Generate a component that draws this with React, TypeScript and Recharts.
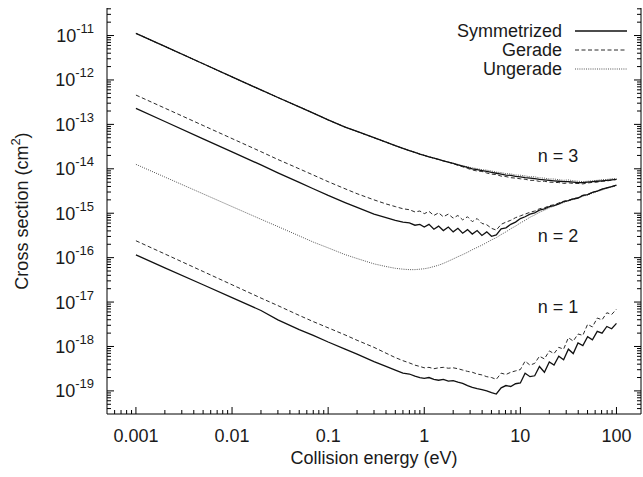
import React from 'react';
import { LineChart, Line, XAxis, YAxis, Legend, Customized } from 'recharts';

// Collision energies (eV) shared by every curve
const energies = [
  0.001, 0.002, 0.005, 0.01, 0.02, 0.03, 0.05, 0.07, 0.1, 0.15, 0.2, 0.3, 0.4, 0.5, 0.6, 0.7, 0.8, 0.9,
  1, 1.12, 1.26, 1.41, 1.58, 1.78, 2, 2.24, 2.51, 2.82, 3.16, 3.55, 3.98, 4.47, 5.01, 5.62, 6.31, 7.08, 7.94, 8.91,
  10, 11.2, 12.6, 14.1, 15.8, 17.8, 20, 22.4, 25.1, 28.2, 31.6, 35.5, 39.8, 44.7, 50.1, 56.2, 63.1, 70.8, 79.4, 89.1,
  100,
];

// Cross sections (cm^2), n = 3
const n3Symmetrized = [
  1.12e-11, 5.69e-12, 2.32e-12, 1.17e-12, 5.96e-13, 4.03e-13, 2.48e-13, 1.8e-13, 1.26e-13, 8.71e-14, 6.92e-14, 5.01e-14, 3.98e-14, 3.31e-14, 2.88e-14, 2.57e-14, 2.34e-14, 2.14e-14,
  2.0e-14, 1.86e-14, 1.74e-14, 1.62e-14, 1.51e-14, 1.41e-14, 1.32e-14, 1.23e-14, 1.15e-14, 1.07e-14, 1.0e-14, 9.55e-15, 9.12e-15, 8.71e-15, 8.32e-15, 7.94e-15, 7.59e-15, 7.24e-15, 7.08e-15, 6.76e-15,
  6.61e-15, 6.31e-15, 6.17e-15, 6.03e-15, 5.75e-15, 5.62e-15, 5.5e-15, 5.37e-15, 5.25e-15, 5.13e-15, 5.13e-15, 5.01e-15, 4.9e-15, 4.9e-15, 5.01e-15, 5.13e-15, 5.25e-15, 5.37e-15, 5.5e-15, 5.62e-15,
  5.75e-15,
];
const n3Gerade = [
  1.12e-11, 5.69e-12, 2.32e-12, 1.17e-12, 5.96e-13, 4.03e-13, 2.48e-13, 1.8e-13, 1.26e-13, 8.71e-14, 6.92e-14, 5.01e-14, 3.98e-14, 3.31e-14, 2.88e-14, 2.57e-14, 2.34e-14, 2.14e-14,
  2.0e-14, 1.86e-14, 1.74e-14, 1.62e-14, 1.51e-14, 1.41e-14, 1.3e-14, 1.2e-14, 1.11e-14, 1.02e-14, 9.44e-15, 8.91e-15, 8.71e-15, 8.04e-15, 7.59e-15, 7.41e-15, 6.84e-15, 6.68e-15, 6.31e-15, 6.17e-15,
  5.96e-15, 5.82e-15, 5.5e-15, 5.5e-15, 5.19e-15, 5.25e-15, 5.01e-15, 4.95e-15, 4.9e-15, 4.68e-15, 4.84e-15, 4.68e-15, 4.68e-15, 4.57e-15, 4.79e-15, 4.95e-15, 5.01e-15, 5.25e-15, 5.31e-15, 5.56e-15,
  5.75e-15,
];
const n3Ungerade = [
  1.12e-11, 5.69e-12, 2.32e-12, 1.17e-12, 5.96e-13, 4.03e-13, 2.48e-13, 1.8e-13, 1.26e-13, 8.71e-14, 6.92e-14, 5.01e-14, 3.98e-14, 3.31e-14, 2.88e-14, 2.57e-14, 2.34e-14, 2.14e-14,
  2.0e-14, 1.86e-14, 1.74e-14, 1.62e-14, 1.51e-14, 1.41e-14, 1.33e-14, 1.26e-14, 1.17e-14, 1.11e-14, 1.05e-14, 1.01e-14, 9.55e-15, 9.33e-15, 8.91e-15, 8.41e-15, 8.22e-15, 7.76e-15, 7.67e-15, 7.24e-15,
  7.16e-15, 6.92e-15, 6.61e-15, 6.61e-15, 6.24e-15, 6.17e-15, 5.89e-15, 5.89e-15, 5.69e-15, 5.5e-15, 5.62e-15, 5.37e-15, 5.25e-15, 5.13e-15, 5.25e-15, 5.37e-15, 5.5e-15, 5.69e-15, 5.75e-15, 5.96e-15,
  6.03e-15,
];

// Cross sections (cm^2), n = 2
const n2Symmetrized = [
  2.29e-13, 1.16e-13, 4.73e-14, 2.4e-14, 1.22e-14, 8.13e-15, 4.95e-15, 3.55e-15, 2.51e-15, 1.74e-15, 1.35e-15, 9.55e-16, 7.94e-16, 6.92e-16, 6.31e-16, 6.03e-16, 5.37e-16, 5.62e-16,
  4.9e-16, 5.62e-16, 4.37e-16, 5.13e-16, 4.07e-16, 4.9e-16, 3.8e-16, 4.57e-16, 3.55e-16, 4.27e-16, 3.39e-16, 4.07e-16, 3.16e-16, 3.8e-16, 3.02e-16, 3.24e-16, 4.47e-16, 4.68e-16, 5.62e-16, 6.31e-16,
  7.59e-16, 8.32e-16, 9.55e-16, 1.02e-15, 1.17e-15, 1.26e-15, 1.41e-15, 1.48e-15, 1.62e-15, 1.82e-15, 1.91e-15, 2.09e-15, 2.19e-15, 2.51e-15, 2.63e-15, 2.95e-15, 3.16e-15, 3.47e-15, 3.72e-15, 3.98e-15,
  4.27e-15,
];
const n2Gerade = [
  4.57e-13, 2.32e-13, 9.44e-14, 4.79e-14, 2.43e-14, 1.62e-14, 1.0e-14, 7.24e-15, 5.13e-15, 3.55e-15, 2.75e-15, 2.0e-15, 1.62e-15, 1.41e-15, 1.26e-15, 1.2e-15, 1.07e-15, 1.12e-15,
  9.77e-16, 1.1e-15, 8.91e-16, 1.02e-15, 8.32e-16, 9.55e-16, 7.76e-16, 8.91e-16, 7.08e-16, 8.32e-16, 6.46e-16, 7.59e-16, 5.89e-16, 5.5e-16, 4.57e-16, 4.17e-16, 5.62e-16, 6.31e-16, 6.92e-16, 7.94e-16,
  8.71e-16, 9.55e-16, 1.05e-15, 1.12e-15, 1.26e-15, 1.32e-15, 1.48e-15, 1.55e-15, 1.7e-15, 1.86e-15, 1.95e-15, 2.14e-15, 2.24e-15, 2.51e-15, 2.63e-15, 2.95e-15, 3.16e-15, 3.47e-15, 3.72e-15, 3.98e-15,
  4.27e-15,
];
const n2Ungerade = [
  1.26e-14, 6.52e-15, 2.73e-15, 1.41e-15, 7.31e-16, 5.01e-16, 3.09e-16, 2.24e-16, 1.66e-16, 1.17e-16, 9.55e-17, 7.24e-17, 6.31e-17, 5.75e-17, 5.5e-17, 5.37e-17, 5.37e-17, 5.5e-17,
  5.62e-17, 5.89e-17, 6.31e-17, 6.76e-17, 7.41e-17, 8.32e-17, 9.33e-17, 1.05e-16, 1.17e-16, 1.32e-16, 1.51e-16, 1.7e-16, 1.91e-16, 2.19e-16, 2.51e-16, 2.82e-16, 3.31e-16, 3.8e-16, 4.47e-16, 5.13e-16,
  6.03e-16, 6.92e-16, 8.13e-16, 9.12e-16, 1.05e-15, 1.17e-15, 1.32e-15, 1.45e-15, 1.58e-15, 1.74e-15, 1.91e-15, 2.04e-15, 2.19e-15, 2.4e-15, 2.57e-15, 2.82e-15, 3.09e-15, 3.31e-15, 3.63e-15, 3.89e-15,
  4.17e-15,
];

// Cross sections (cm^2), n = 1
const n1Symmetrized = [
  1.15e-16, 5.89e-17, 2.45e-17, 1.26e-17, 6.46e-18, 3.98e-18, 2.4e-18, 1.78e-18, 1.26e-18, 8.71e-19, 6.76e-19, 4.57e-19, 3.55e-19, 2.95e-19, 2.51e-19, 2.4e-19, 2.14e-19, 2.0e-19,
  1.91e-19, 2.0e-19, 1.82e-19, 1.74e-19, 1.82e-19, 1.66e-19, 1.7e-19, 1.58e-19, 1.48e-19, 1.32e-19, 1.2e-19, 1.12e-19, 1.07e-19, 1.0e-19, 9.12e-20, 8.51e-20, 1.17e-19, 1.32e-19, 1.26e-19, 1.45e-19,
  1.51e-19, 2.51e-19, 2.09e-19, 2.19e-19, 3.55e-19, 2.63e-19, 4.47e-19, 3.8e-19, 6.03e-19, 5.01e-19, 8.71e-19, 6.92e-19, 1.2e-18, 1.05e-18, 1.66e-18, 1.41e-18, 2.19e-18, 2.0e-18, 2.82e-18, 2.51e-18,
  3.31e-18,
];
const n1Gerade = [
  2.4e-16, 1.21e-16, 4.88e-17, 2.45e-17, 1.23e-17, 8.32e-18, 5.01e-18, 3.63e-18, 2.63e-18, 1.82e-18, 1.38e-18, 9.55e-19, 7.08e-19, 5.62e-19, 4.79e-19, 4.27e-19, 3.8e-19, 3.55e-19,
  3.31e-19, 3.39e-19, 3.16e-19, 3.31e-19, 3.39e-19, 3.24e-19, 3.31e-19, 3.16e-19, 2.95e-19, 2.75e-19, 2.63e-19, 2.4e-19, 2.29e-19, 2.09e-19, 2.0e-19, 1.82e-19, 2.51e-19, 2.34e-19, 2.63e-19, 2.82e-19,
  3.02e-19, 4.68e-19, 3.8e-19, 4.17e-19, 6.03e-19, 5.25e-19, 7.94e-19, 6.92e-19, 9.55e-19, 8.71e-19, 1.58e-18, 1.32e-18, 1.91e-18, 1.78e-18, 3.16e-18, 2.75e-18, 4.37e-18, 3.98e-18, 5.75e-18, 5.25e-18,
  6.92e-18,
];

// Axis ticks
const xMajorTicks = [0.001, 0.01, 0.1, 1, 10, 100];
const xTickLabels = ['0.001', '0.01', '0.1', '1', '10', '100'];
const yMajorTicks = [1e-11, 1e-12, 1e-13, 1e-14, 1e-15, 1e-16, 1e-17, 1e-18, 1e-19];
const yTickExponents = ['-11', '-12', '-13', '-14', '-15', '-16', '-17', '-18', '-19'];

// Branch labels drawn next to each group of curves
const branchLabels = ['n = 3', 'n = 2', 'n = 1'];

const legendNames = ['Symmetrized', 'Gerade', 'Ungerade'];

const FONT = '"Liberation Sans", Arial, Helvetica, sans-serif';
const INK = '#1a1a1a';

const X_DOMAIN: [number, number] = [Math.log10(5e-4), Math.log10(180)];
const Y_DOMAIN: [number, number] = [-19.52, -10.38];

const MAJOR_LEN = 7;
const MINOR_LEN = 4;

const lineStyles: Record<string, { stroke: string; width: number; dash?: string }> = {
  Symmetrized: { stroke: '#111111', width: 1.3 },
  Gerade: { stroke: '#2a2a2a', width: 1, dash: '4 2.5' },
  Ungerade: { stroke: '#555555', width: 1, dash: '1 1.2' },
};

const minorLogs = (fromExp: number, toExp: number, domain: [number, number]) => {
  const out: number[] = [];
  for (let p = fromExp; p <= toExp; p++) {
    for (let m = 2; m <= 9; m++) {
      const v = p + Math.log10(m);
      if (v > domain[0] + 1e-6 && v < domain[1] - 1e-6) out.push(v);
    }
  }
  return out;
};

const xTicks = [...xMajorTicks.map((t) => Math.log10(t)), ...minorLogs(-4, 2, X_DOMAIN)];
const yTicks = [...yMajorTicks.map((t) => Math.log10(t)), ...minorLogs(-20, -11, Y_DOMAIN)];

const isMajor = (v: number) => Math.abs(v - Math.round(v)) < 1e-9;
const findMajor = (list: number[], v: number) => list.findIndex((t) => Math.abs(Math.log10(t) - v) < 1e-9);

const rows = energies.map((e, i) => ({
  logE: Math.log10(e),
  s3: Math.log10(n3Symmetrized[i]),
  g3: Math.log10(n3Gerade[i]),
  u3: Math.log10(n3Ungerade[i]),
  s2: Math.log10(n2Symmetrized[i]),
  g2: Math.log10(n2Gerade[i]),
  u2: Math.log10(n2Ungerade[i]),
  s1: Math.log10(n1Symmetrized[i]),
  g1: Math.log10(n1Gerade[i]),
}));

function BottomTick(props: any) {
  const { x, y, payload } = props;
  const v = payload.value as number;
  const major = isMajor(v);
  const idx = findMajor(xMajorTicks, v);
  return (
    <g>
      <line x1={x} x2={x} y1={y} y2={y - (major ? MAJOR_LEN : MINOR_LEN)} stroke="#000" strokeWidth={1} />
      {major && idx >= 0 && (
        <text x={x} y={y + 28} textAnchor="middle" fontSize={18} fontFamily={FONT} fill={INK}>
          {xTickLabels[idx]}
        </text>
      )}
    </g>
  );
}

function TopTick(props: any) {
  const { x, y, payload } = props;
  const major = isMajor(payload.value);
  return <line x1={x} x2={x} y1={y} y2={y + (major ? MAJOR_LEN : MINOR_LEN)} stroke="#000" strokeWidth={1} />;
}

function LeftTick(props: any) {
  const { x, y, payload } = props;
  const v = payload.value as number;
  const major = isMajor(v);
  const idx = findMajor(yMajorTicks, v);
  return (
    <g>
      <line x1={x} x2={x + (major ? MAJOR_LEN : MINOR_LEN)} y1={y} y2={y} stroke="#000" strokeWidth={1} />
      {major && idx >= 0 && (
        <text x={x - 13} y={y + 6.5} textAnchor="end" fontSize={18} fontFamily={FONT} fill={INK}>
          10
          <tspan dy={-9} fontSize={13}>
            {yTickExponents[idx]}
          </tspan>
        </text>
      )}
    </g>
  );
}

function RightTick(props: any) {
  const { x, y, payload } = props;
  const major = isMajor(payload.value);
  return <line x1={x} x2={x - (major ? MAJOR_LEN : MINOR_LEN)} y1={y} y2={y} stroke="#000" strokeWidth={1} />;
}

function LegendBox(props: any) {
  const payload: any[] = (props.payload || []).filter((p: any) => legendNames.includes(p.value));
  payload.sort((a, b) => legendNames.indexOf(a.value) - legendNames.indexOf(b.value));
  return (
    <svg width={643} height={90} style={{ display: 'block', overflow: 'visible' }}>
      {payload.map((entry, i) => {
        const st = lineStyles[entry.value];
        const cy = 31 + i * 19;
        return (
          <g key={entry.value}>
            <text x={562} y={cy + 6} textAnchor="end" fontSize={18} fontFamily={FONT} fill={INK}>
              {entry.value}
            </text>
            <line x1={575} x2={627} y1={cy} y2={cy} stroke={st.stroke} strokeWidth={st.width} strokeDasharray={st.dash} />
          </g>
        );
      })}
    </svg>
  );
}

function Titles() {
  return (
    <g fontFamily={FONT} fill={INK} fontSize={18}>
      <text x={374} y={464} textAnchor="middle">
        Collision energy (eV)
      </text>
      <text x={28} y={211} textAnchor="middle" transform="rotate(-90 28 211)">
        Cross section (cm
        <tspan dy={-8} fontSize={13}>
          2
        </tspan>
        <tspan dy={8}>)</tspan>
      </text>
      <text x={558} y={162} textAnchor="middle">
        {branchLabels[0]}
      </text>
      <text x={558} y={242} textAnchor="middle">
        {branchLabels[1]}
      </text>
      <text x={558} y={313} textAnchor="middle">
        {branchLabels[2]}
      </text>
    </g>
  );
}

export default function App() {
  const common = { xAxisId: 'bottom', yAxisId: 'left', type: 'linear' as const, dot: false, isAnimationActive: false, activeDot: false };
  const S = lineStyles.Symmetrized;
  const G = lineStyles.Gerade;
  const U = lineStyles.Ungerade;
  return (
    <div style={{ position: 'absolute', left: 0, top: 0, background: '#fff' }}>
      <LineChart width={643} height={477} data={rows} margin={{ top: 8, right: 0, bottom: 0, left: 0 }}>
        <XAxis
          xAxisId="bottom"
          dataKey="logE"
          type="number"
          orientation="bottom"
          domain={X_DOMAIN}
          allowDataOverflow
          ticks={xTicks}
          interval={0}
          height={63}
          tickSize={0}
          tickMargin={0}
          tickLine={false}
          axisLine={{ stroke: '#000', strokeWidth: 1 }}
          tick={<BottomTick />}
        />
        <XAxis
          xAxisId="top"
          dataKey="logE"
          type="number"
          orientation="top"
          domain={X_DOMAIN}
          allowDataOverflow
          ticks={xTicks}
          interval={0}
          height={0}
          tickSize={0}
          tickMargin={0}
          tickLine={false}
          axisLine={{ stroke: '#000', strokeWidth: 1 }}
          tick={<TopTick />}
        />
        <YAxis
          yAxisId="left"
          type="number"
          orientation="left"
          domain={Y_DOMAIN}
          allowDataOverflow
          ticks={yTicks}
          interval={0}
          width={107}
          tickSize={0}
          tickMargin={0}
          tickLine={false}
          axisLine={{ stroke: '#000', strokeWidth: 1 }}
          tick={<LeftTick />}
        />
        <YAxis
          yAxisId="right"
          type="number"
          orientation="right"
          domain={Y_DOMAIN}
          allowDataOverflow
          ticks={yTicks}
          interval={0}
          width={2}
          tickSize={0}
          tickMargin={0}
          tickLine={false}
          axisLine={{ stroke: '#000', strokeWidth: 1 }}
          tick={<RightTick />}
        />

        <Line {...common} dataKey="u2" stroke={U.stroke} strokeWidth={U.width} strokeDasharray={U.dash} legendType="none" />
        <Line {...common} dataKey="g2" stroke={G.stroke} strokeWidth={G.width} strokeDasharray={G.dash} legendType="none" />
        <Line {...common} dataKey="s2" stroke={S.stroke} strokeWidth={S.width} legendType="none" />
        <Line {...common} dataKey="g1" stroke={G.stroke} strokeWidth={G.width} strokeDasharray={G.dash} legendType="none" />
        <Line {...common} dataKey="s1" stroke={S.stroke} strokeWidth={S.width} legendType="none" />
        <Line {...common} dataKey="u3" name="Ungerade" stroke={U.stroke} strokeWidth={U.width} strokeDasharray={U.dash} />
        <Line {...common} dataKey="g3" name="Gerade" stroke={G.stroke} strokeWidth={G.width} strokeDasharray={G.dash} />
        <Line {...common} dataKey="s3" name="Symmetrized" stroke={S.stroke} strokeWidth={S.width} />

        <Legend
          layout="vertical"
          align="center"
          verticalAlign="middle"
          wrapperStyle={{ top: 0, left: 0, width: 643, height: 90 }}
          content={<LegendBox />}
        />
        <Customized component={<Titles />} />
      </LineChart>
    </div>
  );
}
